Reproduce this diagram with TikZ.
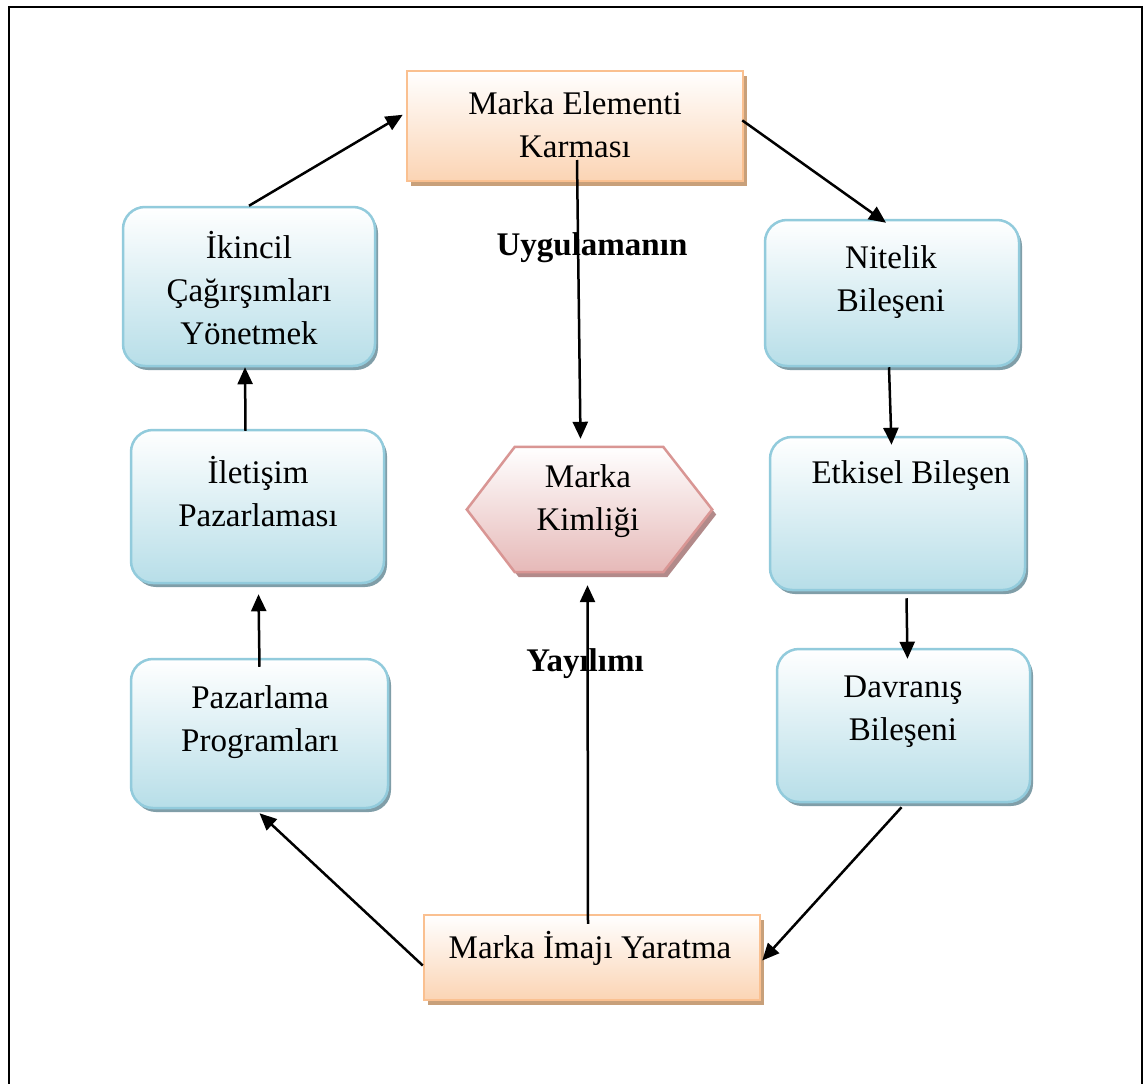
\documentclass[tikz,border=0pt]{standalone}
\usepackage{fontspec}
\setmainfont{Liberation Serif}
\usetikzlibrary{arrows.meta,calc,shadows}

\definecolor{blueedge}{RGB}{146,203,220}
\definecolor{bluefill}{RGB}{183,222,232}
\definecolor{blueshadow}{RGB}{128,158,168}
\definecolor{orangeedge}{RGB}{250,192,144}
\definecolor{orangefill}{RGB}{251,212,180}
\definecolor{orangeshadow}{RGB}{200,160,122}
\definecolor{pinkedge}{RGB}{217,150,148}
\definecolor{pinkfill}{RGB}{230,185,184}
\definecolor{pinkshadow}{RGB}{178,138,138}

\tikzset{
  roundbox/.style={rectangle, rounded corners=22pt, draw=blueedge, line width=2.5pt,
    top color=white, bottom color=bluefill,
    drop shadow={shadow xshift=3pt, shadow yshift=-4pt, fill=blueshadow, opacity=1}},
  squarebox/.style={rectangle, draw=orangeedge, line width=2.5pt,
    top color=white, bottom color=orangefill,
    drop shadow={shadow xshift=4pt, shadow yshift=-5pt, fill=orangeshadow, opacity=1}},
  hexpath/.style={draw=pinkedge, line width=2.5pt, top color=white, bottom color=pinkfill,
    drop shadow={shadow xshift=4pt, shadow yshift=-5pt, fill=pinkshadow, opacity=1}},
  txt/.style={align=center, inner sep=0pt, font=\fontsize{33}{43}\selectfont},
  boldtxt/.style={inner sep=0pt, font=\fontsize{33}{43}\selectfont\bfseries},
  arr/.style={line width=2.5pt, -{Triangle[length=17pt,width=15pt]}},
}

\begin{document}
\begin{tikzpicture}[x=1pt,y=-1pt]
\useasboundingbox (0,0) rectangle (1144,1084);
\fill[white] (0,0) rectangle (1144,1084);
% outer frame
\draw[line width=2.5pt] (9,1100) -- (9,7) -- (1142,7) -- (1142,1100);

% boxes
\node[squarebox, minimum width=336pt, minimum height=110pt] (elem) at (575,126) {};
\node[squarebox, minimum width=336pt, minimum height=85pt] (imaj) at (592,957.5) {};
\node[roundbox, minimum width=252pt, minimum height=159pt] (ikn) at (249,286.5) {};
\node[roundbox, minimum width=253pt, minimum height=153pt] (ilt) at (257.5,506.5) {};
\node[roundbox, minimum width=257pt, minimum height=149pt] (pzr) at (259.5,733.5) {};
\node[roundbox, minimum width=254pt, minimum height=146pt] (nit) at (892,293) {};
\node[roundbox, minimum width=255pt, minimum height=153pt] (etk) at (897.5,513.5) {};
\node[roundbox, minimum width=253pt, minimum height=153pt] (dav) at (903.5,725.5) {};

% hexagon
\node[minimum width=245pt, minimum height=125pt, inner sep=0pt] (hex) at (589.5,509.5) {};
\path[hexpath] (hex.west) -- ($(hex.north west)+(48,0)$) -- ($(hex.north east)+(-49,0)$)
  -- (hex.east) -- ($(hex.south east)+(-49,0)$) -- ($(hex.south west)+(48,0)$) -- cycle;

% texts
\node[txt] (telem) at (575,125) {Marka Elementi\\Karması};
\node[txt] (timaj) at (590,948) {Marka İmajı Yaratma};
\node[txt] (tikn) at (249,288) {İkincil\\Çağırşımları\\Yönetmek};
\node[txt] (tilt) at (258,492) {İletişim\\Pazarlaması};
\node[txt] (tpzr) at (260,722) {Pazarlama\\Programları};
\node[txt] (tnit) at (891,282) {Nitelik\\Bileşeni};
\node[txt] (tetk) at (911,476) {Etkisel Bileşen};
\node[txt] (tdav) at (903,712) {Davranış\\Bileşeni};
\node[txt] (thex) at (588,501) {Marka\\Kimliği};
\node[boldtxt] (uyg) at (592,248) {Uygulamanın};
\node[boldtxt] (yay) at (585,664) {Yayılımı};

% connectors around the cycle
\draw[arr] (ikn.north) -- ($(elem.north west)!0.4!(elem.south west)+(-3,0)$);
\draw[arr] ($(elem.north east)!0.45!(elem.south east)+(-2,0)$) -- ($(nit.north)+(-6,4)$);
\draw[arr] ($(nit.south)+(-3,0)$) -- ($(etk.north)+(-6,9)$);
\draw[arr] ($(etk.south)+(9,7)$) -- ($(dav.north)+(4,11)$);
\draw[arr] ($(dav.south)+(-2,4)$) -- ($(imaj.east)+(1,3)$);
\draw[arr] ($(imaj.west)+(0,8)$) -- ($(pzr.south)+(0,4)$);
\draw[arr] ($(pzr.north)+(0,9)$) -- ($(ilt.south)+(1,10)$);
\draw[arr] ($(ilt.north)+(-12,2)$) -- ($(ikn.south)+(-4,0)$);
% connectors to the centre
\draw[arr] ($(elem.center)+(2,34)$) -- ($(hex.north)+(-9,-8)$);
\draw[arr] ($(imaj.north)+(-4,10)$) -- ($(hex.south)+(-2,13)$);
\end{tikzpicture}
\end{document}
